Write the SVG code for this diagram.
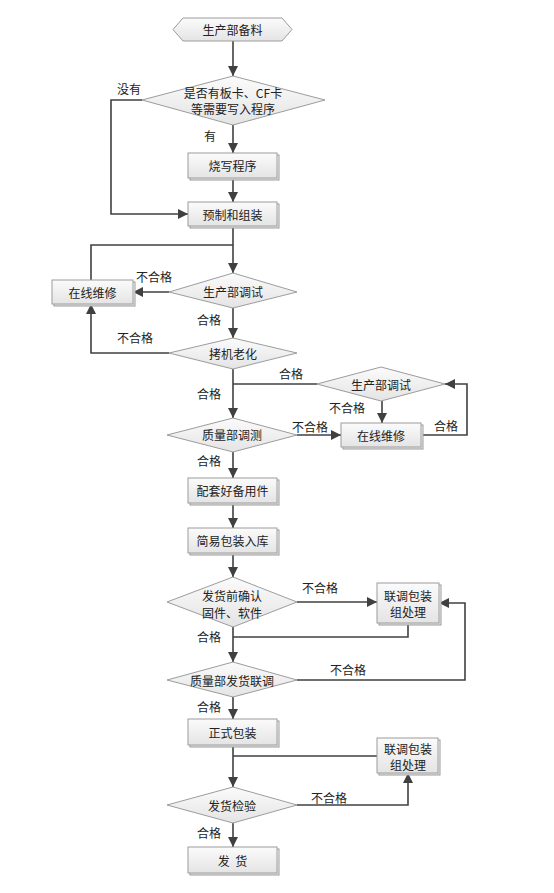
<svg xmlns="http://www.w3.org/2000/svg" width="554" height="893" viewBox="0 0 554 893">
<defs>
<linearGradient id="g" x1="0" y1="0" x2="0" y2="1"><stop offset="0" stop-color="#fbfbfb"/><stop offset="1" stop-color="#e4e4e4"/></linearGradient>
<marker id="a" markerUnits="userSpaceOnUse" markerWidth="12" markerHeight="12" refX="10" refY="5" orient="auto"><path d="M0,0 L10,5 L0,10 Z" fill="#404040"/></marker>
</defs>
<style>
.n rect,.n polygon{fill:url(#g);stroke:#9c9c9c;stroke-width:1}
.sh{fill:#cfcfcf;stroke:none}
text{font-family:"Noto Sans CJK SC","Liberation Sans",sans-serif;font-size:12px;fill:#222;text-anchor:middle;dominant-baseline:central}
.c path{fill:none;stroke:#404040;stroke-width:1.6}
.c path.ar{marker-end:url(#a)}
.l text{font-size:12px}
</style>
<rect width="554" height="893" fill="#fff"/>
<g class="c">
<path class="ar" d="M233,41 V76"/>
<path class="ar" d="M142,100 H111 V214 H188"/>
<path class="ar" d="M233,125 V153"/>
<path class="ar" d="M233,178 V202"/>
<path class="ar" d="M233,226 V273"/>
<path d="M91,280 V245 H233"/>
<path class="ar" d="M169,292 H133"/>
<path class="ar" d="M233,308 V338"/>
<path class="ar" d="M169,353 H91 V304"/>
<path class="ar" d="M233,369 V418"/>
<path d="M317,384 H233"/>
<path class="ar" d="M382,401 V423"/>
<path class="ar" d="M297,435 H341"/>
<path class="ar" d="M421,435 H467 V384 H445"/>
<path class="ar" d="M233,452 V478"/>
<path class="ar" d="M233,503 V528"/>
<path class="ar" d="M233,553 V577"/>
<path class="ar" d="M297,602 H377"/>
<path d="M408,623 V637 H233"/>
<path class="ar" d="M233,627 V662"/>
<path class="ar" d="M297,680 H465 V603 H439"/>
<path class="ar" d="M233,697 V719"/>
<path d="M377,756 H233"/>
<path class="ar" d="M233,745 V787"/>
<path class="ar" d="M297,805 H408 V773"/>
<path class="ar" d="M233,823 V847"/>
</g>
<g class="l">
<text x="129" y="88">没有</text>
<text x="210" y="135">有</text>
<text x="154" y="276">不合格</text>
<text x="209" y="319">合格</text>
<text x="135" y="337">不合格</text>
<text x="291" y="373">合格</text>
<text x="209" y="393">合格</text>
<text x="347" y="407">不合格</text>
<text x="310" y="426">不合格</text>
<text x="446" y="425">合格</text>
<text x="209" y="460">合格</text>
<text x="320" y="587">不合格</text>
<text x="209" y="636">合格</text>
<text x="348" y="669">不合格</text>
<text x="209" y="706">合格</text>
<text x="329" y="797">不合格</text>
<text x="209" y="832">合格</text>
</g>
<g id="n1" class="n"><polygon points="173,29.5 183,18 282,18 292,29.5 282,41 183,41"/><text x="232.5" y="29.5">生产部备料</text></g>
<g id="n2" class="n"><polygon points="142,100 233,76 325,100 233,125"/><text x="233" y="92">是否有板卡、CF卡</text><text x="233" y="108">等需要写入程序</text></g>
<g id="n3" class="n"><rect class="sh" x="190" y="155" width="89" height="25"/><rect x="188" y="153" width="89" height="25"/><text x="232.5" y="165.5">烧写程序</text></g>
<g id="n4" class="n"><rect class="sh" x="190" y="204" width="89" height="24"/><rect x="188" y="202" width="89" height="24"/><text x="232.5" y="214">预制和组装</text></g>
<g id="n5" class="n"><polygon points="169,292 233,273 297,292 233,308"/><text x="233" y="291">生产部调试</text></g>
<g id="n6" class="n"><rect class="sh" x="54" y="282" width="81" height="24"/><rect x="52" y="280" width="81" height="24"/><text x="92.5" y="292">在线维修</text></g>
<g id="n7" class="n"><polygon points="169,353 233,338 297,353 233,369"/><text x="233" y="353">拷机老化</text></g>
<g id="n8" class="n"><polygon points="317,384 381,367 445,384 381,401"/><text x="381" y="384">生产部调试</text></g>
<g id="n9" class="n"><rect class="sh" x="343" y="425" width="80" height="24"/><rect x="341" y="423" width="80" height="24"/><text x="381" y="435">在线维修</text></g>
<g id="n10" class="n"><polygon points="167,435 233,418 297,435 233,452"/><text x="232" y="434">质量部调测</text></g>
<g id="n11" class="n"><rect class="sh" x="190" y="480" width="89" height="25"/><rect x="188" y="478" width="89" height="25"/><text x="232.5" y="490.5">配套好备用件</text></g>
<g id="n12" class="n"><rect class="sh" x="190" y="530" width="89" height="25"/><rect x="188" y="528" width="89" height="25"/><text x="232.5" y="540.5">简易包装入库</text></g>
<g id="n13" class="n"><polygon points="167,602 233,577 297,602 233,627"/><text x="232" y="595">发货前确认</text><text x="232" y="612">固件、软件</text></g>
<g id="n14" class="n"><rect class="sh" x="379" y="585" width="62" height="40"/><rect x="377" y="583" width="62" height="40"/><text x="408" y="595">联调包装</text><text x="408" y="611">组处理</text></g>
<g id="n15" class="n"><polygon points="167,680 233,662 297,680 233,697"/><text x="232" y="680">质量部发货联调</text></g>
<g id="n16" class="n"><rect class="sh" x="190" y="721" width="89" height="26"/><rect x="188" y="719" width="89" height="26"/><text x="232.5" y="732">正式包装</text></g>
<g id="n17" class="n"><rect class="sh" x="379" y="740" width="61" height="35"/><rect x="377" y="738" width="61" height="35"/><text x="408" y="748">联调包装</text><text x="408" y="764">组处理</text></g>
<g id="n18" class="n"><polygon points="167,805 233,787 297,805 233,823"/><text x="232" y="805">发货检验</text></g>
<g id="n19" class="n"><rect class="sh" x="190" y="849" width="89" height="26"/><rect x="188" y="847" width="89" height="26"/><text x="232.5" y="860" xml:space="preserve">发  货</text></g>
</svg>
